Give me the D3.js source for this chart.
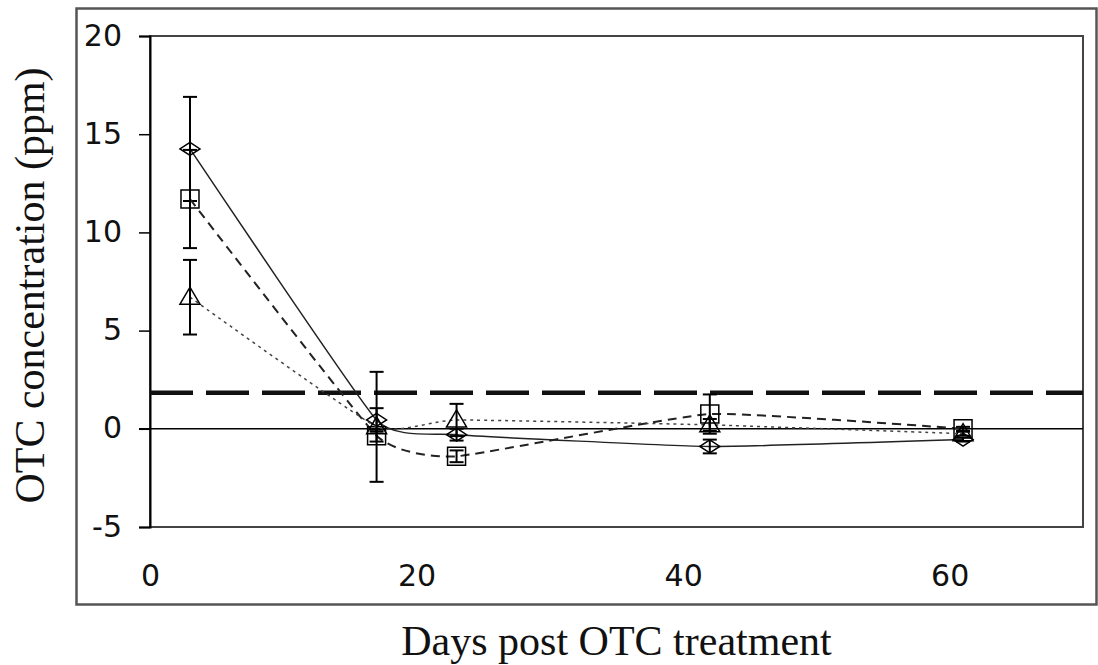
<!DOCTYPE html>
<html>
<head>
<meta charset="utf-8">
<script src="https://cdn.jsdelivr.net/npm/d3@7"></script>
<style>
  body { margin: 0; background: #fff; }
  svg { display: block; }
</style>
</head>
<body>
<svg id="chart"></svg>
<script>
// values
const days = [3, 17, 23, 42, 61];
const diamondVals = [14.25, 0.45, -0.3, -0.9, -0.55];
const diamondErr = [2.65, 0.6, 0.3, 0.35, 0.1];
const squareVals = [11.7, -0.35, -1.4, 0.75, 0.0];
const squareErr = [2.5, 0.3, 0.3, 1.0, 0.1];
const triangleVals = [6.7, 0.1, 0.45, 0.2, -0.25];
const triangleErr = [1.9, 2.8, 0.82, 0.3, 0.1];
const threshold = 1.83;
const yTicks = [-5, 0, 5, 10, 15, 20];
const xTicks = [0, 20, 40, 60];
const xTitle = "Days post OTC treatment";
const yTitle = "OTC concentration (ppm)";

const W = 1098, H = 665;
const plot = { left: 150, top: 36, right: 1083, bottom: 527 };

const svg = d3.select("#chart").attr("width", W).attr("height", H);

const x = d3.scaleLinear().domain([0, 70]).range([plot.left, plot.right]);
const y = d3.scaleLinear().domain([-5, 20]).range([plot.bottom, plot.top]);

// outer frame
svg.append("rect")
  .attr("x", 76.5).attr("y", 8.5)
  .attr("width", 1020).attr("height", 596)
  .attr("fill", "none").attr("stroke", "#555").attr("stroke-width", 2.5);

// plot area border
svg.append("rect")
  .attr("x", plot.left).attr("y", plot.top)
  .attr("width", plot.right - plot.left).attr("height", plot.bottom - plot.top)
  .attr("fill", "none").attr("stroke", "#444").attr("stroke-width", 2);

// y axis
const yAxis = d3.axisLeft(y).tickValues(yTicks).tickFormat(d => String(d)).tickSize(11).tickPadding(17);
const gy = svg.append("g").attr("transform", `translate(${plot.left},0)`).call(yAxis);
gy.select(".domain").attr("stroke", "#000").attr("stroke-width", 2);
gy.selectAll(".tick line").attr("stroke", "#000").attr("stroke-width", 1.5);
gy.selectAll(".tick text")
  .attr("font-family", "DejaVu Sans, sans-serif")
  .attr("font-size", 30)
  .attr("fill", "#111")
  .attr("dy", "0.3em");

// x axis labels only (sit below the plot, no ticks)
const xAxis = d3.axisBottom(x).tickValues(xTicks).tickFormat(d => String(d)).tickSize(0).tickPadding(38);
const gx = svg.append("g").attr("transform", `translate(0,${plot.bottom})`).call(xAxis);
gx.select(".domain").remove();
gx.selectAll(".tick text")
  .attr("font-family", "DejaVu Sans, sans-serif")
  .attr("font-size", 30)
  .attr("fill", "#111");

// zero line
svg.append("line")
  .attr("x1", plot.left - 11).attr("x2", plot.right)
  .attr("y1", y(0)).attr("y2", y(0))
  .attr("stroke", "#000").attr("stroke-width", 1.5);

// threshold line
svg.append("line")
  .attr("x1", plot.left).attr("x2", plot.right)
  .attr("y1", y(threshold)).attr("y2", y(threshold))
  .attr("stroke", "#111").attr("stroke-width", 4.5)
  .attr("stroke-dasharray", "43,13");

const series = [
  { vals: diamondVals, err: diamondErr, dash: null, width: 1.5, color: "#222", shape: "diamond" },
  { vals: squareVals, err: squareErr, dash: "9,6", width: 2, color: "#222", shape: "square" },
  { vals: triangleVals, err: triangleErr, dash: "3,4", width: 1.5, color: "#444", shape: "triangle" }
];

const line = d3.line()
  .x(d => x(d[0]))
  .y(d => y(d[1]))
  .curve(d3.curveCardinal.tension(0.6));

const shapes = {
  diamond: "M-10,0L0,-6.5L10,0L0,6.5Z",
  square: "M-9,-9H9V9H-9Z",
  triangle: "M-10,7L0,-10L10,7Z"
};

series.forEach(s => {
  const pts = days.map((d, i) => [d, s.vals[i], s.err[i]]);

  svg.append("path")
    .datum(pts)
    .attr("d", line)
    .attr("fill", "none")
    .attr("stroke", s.color)
    .attr("stroke-width", s.width)
    .attr("stroke-dasharray", s.dash);

  // error bars
  const eb = svg.append("g").selectAll("g").data(pts).join("g");
  eb.append("line")
    .attr("x1", d => x(d[0])).attr("x2", d => x(d[0]))
    .attr("y1", d => y(d[1] + d[2])).attr("y2", d => y(d[1] - d[2]))
    .attr("stroke", "#000").attr("stroke-width", 2);
  [1, -1].forEach(sign => {
    eb.append("line")
      .attr("x1", d => x(d[0]) - 7).attr("x2", d => x(d[0]) + 7)
      .attr("y1", d => y(d[1] + sign * d[2])).attr("y2", d => y(d[1] + sign * d[2]))
      .attr("stroke", "#000").attr("stroke-width", 2);
  });

  // markers
  svg.append("g").selectAll("path").data(pts).join("path")
    .attr("d", shapes[s.shape])
    .attr("transform", d => `translate(${x(d[0])},${y(d[1])})`)
    .attr("fill", "none")
    .attr("stroke", "#000")
    .attr("stroke-width", 1.5);
});

// axis titles
svg.append("text")
  .attr("x", (plot.left + plot.right) / 2)
  .attr("y", 655)
  .attr("text-anchor", "middle")
  .attr("font-family", "Liberation Serif, Times New Roman, serif")
  .attr("font-size", 42)
  .attr("fill", "#111")
  .text(xTitle);

svg.append("text")
  .attr("transform", `translate(44,${(plot.top + plot.bottom) / 2 + 4}) rotate(-90)`)
  .attr("text-anchor", "middle")
  .attr("font-family", "Liberation Serif, Times New Roman, serif")
  .attr("font-size", 42)
  .attr("fill", "#111")
  .text(yTitle);
</script>
</body>
</html>
